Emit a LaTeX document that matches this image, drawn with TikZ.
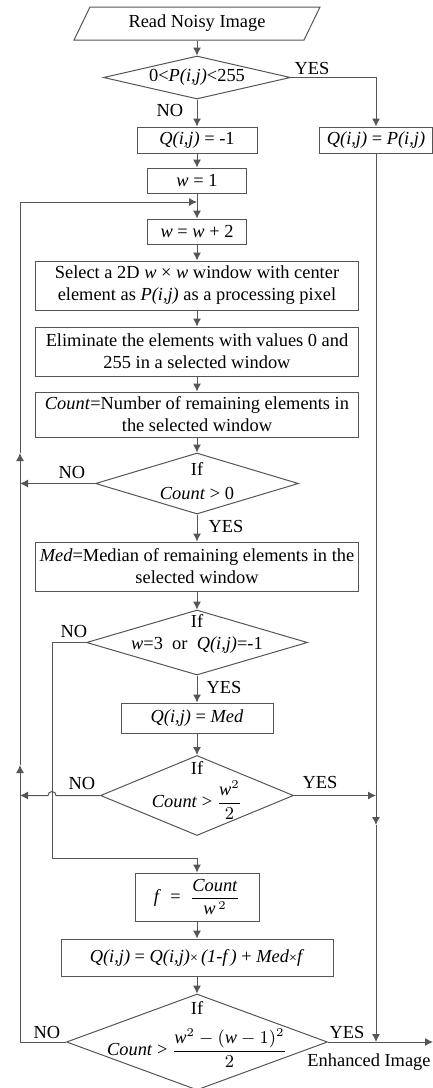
\documentclass[tikz,border=0pt]{standalone}
\usepackage{fontspec}
\setmainfont{Liberation Serif}
\usetikzlibrary{arrows.meta,shapes.geometric}
\newcommand\iv[1]{\textit{#1}}
\newcommand\fs{\fontsize{9.2}{11}\selectfont}
\definecolor{lc}{RGB}{85,85,85}
\begin{document}
\begin{tikzpicture}[x=0.5pt,y=-0.5pt,
  ln/.style={draw=lc,line width=0.5pt},
  arr/.style={ln,-{Latex[length=4pt,width=4pt]}},
  box/.style={draw=lc,line width=0.5pt,rectangle,inner sep=0pt,align=center,font=\fs},
  dia/.style={draw=lc,line width=0.5pt,diamond,inner sep=0pt},
  lbl/.style={inner sep=0pt,font=\fs,align=center}]
\useasboundingbox (0,0) rectangle (433,1088);
% start
\node[box,draw=none,minimum width=115pt,minimum height=16.5pt] (read) at (197,23.5) {Read Noisy Image};
\draw[ln] (90,7)--(320,7)--(304,40)--(74,40)--cycle;
% decision 1
\node[dia,minimum width=93.5pt,minimum height=21.5pt] (d1) at (197,77.5) {};
\node[lbl] (d1t) at (197,77.5) {0<\iv{P(i,j)}<255};
\node[box,minimum width=60pt,minimum height=13pt] (q1) at (197,140) {\iv{Q(i,j)} = -1};
\node[box,minimum width=56.5pt,minimum height=13pt] (qp) at (376,140) {\iv{Q(i,j)} = \iv{P(i,j)}};
\node[box,minimum width=49.5pt,minimum height=12.5pt] (w1) at (197,180.5) {\iv{w} = 1};
\node[box,minimum width=49.5pt,minimum height=12.5pt] (w2) at (197,231.5) {\iv{w} = \iv{w} + 2};
\node[box,minimum width=161.5pt,minimum height=24.5pt] (sel) at (197,285.5) {Select a 2D \iv{w} × \iv{w} window with center\\element as \iv{P(i,j)} as a processing pixel};
\node[box,minimum width=161.5pt,minimum height=24.5pt] (elim) at (197,351.5) {Eliminate the elements with values 0 and\\255 in a selected window};
\node[box,minimum width=161.5pt,minimum height=22.5pt] (cnt) at (197,414.5) {\iv{Count}=Number of remaining elements in\\the selected window};
% decision 2
\node[dia,minimum width=101.5pt,minimum height=30.5pt] (d2) at (197,483.5) {};
\node[lbl] (d2a) at (197,469) {If};
\node[lbl] (d2b) at (197,493) {\iv{Count} > 0};
\node[box,minimum width=161.5pt,minimum height=24.5pt] (med) at (197,566.5) {\iv{Med}=Median of remaining elements in the\\selected window};
% decision 3
\node[dia,minimum width=110.5pt,minimum height=32.5pt] (d3) at (197,642.5) {};
\node[lbl] (d3a) at (197,621) {If};
\node[lbl] (d3b) at (197,645) {\iv{w}=3\ \ or\ \ \iv{Q(i,j)}=-1};
\node[box,minimum width=76pt,minimum height=15pt] (qm) at (197,718) {\iv{Q(i,j)} = \iv{Med}};
% decision 4
\node[dia,minimum width=96.5pt,minimum height=40pt] (d4) at (197,795.5) {};
\node[lbl] (d4a) at (197,768) {If};
\node[lbl] (d4b) at (197,800) {\iv{Count} > $\displaystyle\frac{\mbox{\iv{w}}^{2}}{2}$};
\node[box,minimum width=62pt,minimum height=24pt] (f) at (197,897) {\iv{f}\ \ =\ \ $\displaystyle\frac{\mbox{\iv{Count}}}{\mbox{\iv{w}}^{\,2}}$};
\node[box,minimum width=136pt,minimum height=18.5pt] (qf) at (197,957.5) {\iv{Q(i,j)} = \iv{Q(i,j)}{\scriptsize×}\,\iv{(1-f\,)} + \iv{Med}{\scriptsize×}\iv{f}};
% decision 5
\node[dia,minimum width=130.5pt,minimum height=48pt] (d5) at (197,1042) {};
\node[lbl] (d5a) at (197,1008) {If};
\node[lbl] (d5b) at (197,1048) {\iv{Count} > $\displaystyle\frac{\mbox{\iv{w}}^{2}-(\mbox{\iv{w}}-1)^{2}}{2}$};
% labels
\node[lbl] (y1) at (312,68) {YES};
\node[lbl] (n1) at (170,110) {NO};
\node[lbl] (n2) at (72,472) {NO};
\node[lbl] (y2) at (226,526) {YES};
\node[lbl] (n3) at (74,631) {NO};
\node[lbl] (y3) at (224,687) {YES};
\node[lbl] (n4) at (82,783) {NO};
\node[lbl] (y4) at (320,782) {YES};
\node[lbl] (n5) at (47,1032) {NO};
\node[lbl] (y5) at (347,1032) {YES};
\node[lbl] (enh) at (369,1062) {Enhanced Image};
% coordinates
\coordinate (lt) at (20,202);
\coordinate (j1) at (197,202);
\coordinate (up1) at (20,453);
\coordinate (up2) at (20,765);
\coordinate (l5) at (20,1042);
\coordinate (n3a) at (52,642.5);
\coordinate (n3b) at (52,858);
\coordinate (hop) at (56,795.5);
\coordinate (l4) at (20,795.5);
\coordinate (rmid) at (376,825);
\coordinate (out) at (433,1042);
% connectors
\draw[arr] (read.south) -- (d1.north);
\draw[arr] (d1.south) -- (q1.north);
\draw[arr] (d1.east) -| (qp.north);
\draw[arr] (q1) -- (w1);
\draw[arr] (w1) -- (w2);
\draw[arr] (lt) -- (j1);
\draw[arr] (w2) -- (sel);
\draw[arr] (sel) -- (elim);
\draw[arr] (elim) -- (cnt);
\draw[arr] (cnt) -- (d2.north);
\draw[arr] (d2.south) -- (med);
\draw[arr] (d2.west) -- (d2.west -| lt);
\draw[arr] (med) -- (d3.north);
\draw[arr] (d3.south) -- (qm);
\draw[arr] (d3.west) -- (n3a) -- (n3b) -| (f.north);
\draw[arr] (qm) -- (d4.north);
\draw[arr] (d4.west) -- (hop) arc[start angle=0,end angle=-180,radius=4] -- (l4);
\draw[arr] (d4.east) -- (d4.east -| qp.south);
\draw[arr] (f) -- (qf);
\draw[arr] (qf) -- (d5.north);
\draw[ln] (d5.west) -- (l5);
\draw[arr] (l5) -- (up2);
\draw[arr] (up2) -- (up1);
\draw[ln] (up1) -- (lt);
\draw[arr] (qp.south) -- (rmid);
\draw[arr] (rmid) -- (d5.east -| qp.south);
\draw[arr] (d5.east) -- (out);
\end{tikzpicture}
\end{document}
